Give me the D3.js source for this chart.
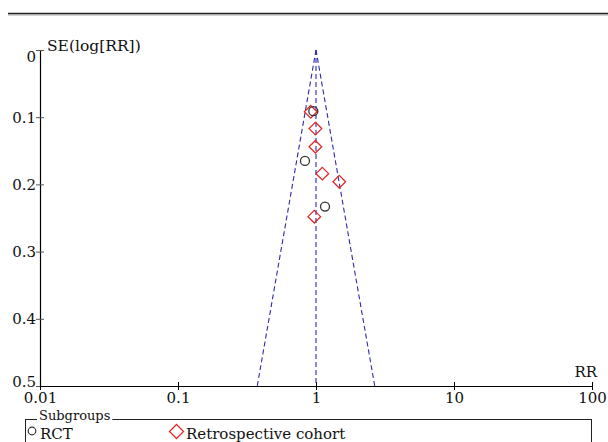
<!DOCTYPE html>
<html>
<head>
<meta charset="utf-8">
<script src="https://cdn.jsdelivr.net/npm/d3@7"></script>
<style>
  body { margin: 0; background: #fff; }
  svg { display: block; font-family: "DejaVu Serif", serif; }
</style>
</head>
<body>
<div class="svg-container"></div>
<script>
// datos
const rctRR = [0.956, 0.832, 1.162];
const rctSE = [0.091, 0.165, 0.233];
const retroRR = [0.915, 0.99, 0.99, 1.111, 1.475, 0.972];
const retroSE = [0.092, 0.117, 0.144, 0.184, 0.196, 0.248];
const pooledRR = 1.0;
const xTicks = [0.01, 0.1, 1, 10, 100];
const xTickLabels = ['0.01', '0.1', '1', '10', '100'];
const yTicks = [0, 0.1, 0.2, 0.3, 0.4, 0.5];
const yTickLabels = ['0', '0.1', '0.2', '0.3', '0.4', '0.5'];
const legendLabels = ['RCT', 'Retrospective cohort'];

const width = 608;
const height = 442;

const svg = d3.select('.svg-container')
  .append('svg')
  .attr('width', width)
  .attr('height', height);

const x = d3.scaleLog().domain([0.01, 100]).range([40, 592]);
const y = d3.scaleLinear().domain([0, 0.5]).range([50, 386]);

// linea superior
svg.append('line')
  .attr('x1', 8).attr('x2', width)
  .attr('y1', 15).attr('y2', 15)
  .attr('stroke', '#aaa').attr('stroke-width', 1);
svg.append('line')
  .attr('x1', 8).attr('x2', width)
  .attr('y1', 13.5).attr('y2', 13.5)
  .attr('stroke', '#222').attr('stroke-width', 1.5);

// eje Y
const yAxis = svg.append('g')
  .attr('transform', 'translate(40,0)')
  .call(d3.axisLeft(y).tickValues(yTicks).tickSize(4).tickSizeOuter(0)
    .tickFormat((d, i) => yTickLabels[i]));
yAxis.select('.domain').attr('stroke', '#000').attr('stroke-width', 1.2);
yAxis.selectAll('.tick line').attr('x1', 4).attr('x2', -4).attr('stroke', '#555');
yAxis.selectAll('.tick text')
  .attr('x', -4)
  .attr('font-family', '"DejaVu Serif", serif')
  .attr('font-size', 15)
  .attr('fill', '#111')
  .attr('dy', (d) => d === 0 ? '0.75em' : (d === 0.5 ? '0.05em' : '0.32em'));

// eje X
const xAxis = svg.append('g')
  .attr('transform', 'translate(0,386)')
  .call(d3.axisBottom(x).tickValues(xTicks).tickSize(4).tickSizeOuter(0)
    .tickFormat((d, i) => xTickLabels[i]));
xAxis.select('.domain').attr('stroke', '#000').attr('stroke-width', 1.2);
xAxis.selectAll('.tick line').attr('y1', -4).attr('y2', 4).attr('stroke', '#000');
xAxis.selectAll('.tick text')
  .attr('y', 6)
  .attr('font-family', '"DejaVu Serif", serif')
  .attr('font-size', 15)
  .attr('fill', '#111');

svg.append('text')
  .attr('x', 47).attr('y', 51)
  .attr('font-size', 15.5)
  .attr('fill', '#111')
  .text('SE(log[RR])');

svg.append('text')
  .attr('x', 597).attr('y', 377)
  .attr('text-anchor', 'end')
  .attr('font-size', 15)
  .attr('fill', '#111')
  .text('RR');

// embudo
const seLine = [0, 0.5];
const funnelColor = '#2b2bb0';
const line = d3.line().x(d => x(d[0])).y(d => y(d[1]));
const leftSide = seLine.map(s => [pooledRR * Math.exp(-1.96 * s), s]);
const rightSide = seLine.map(s => [pooledRR * Math.exp(1.96 * s), s]);
[leftSide, rightSide, seLine.map(s => [pooledRR, s])].forEach(pts => {
  svg.append('path')
    .attr('d', line(pts))
    .attr('fill', 'none')
    .attr('stroke', funnelColor)
    .attr('stroke-width', 1.1)
    .attr('stroke-dasharray', '5,3');
});

const diamond = (cx, cy, r) => `M${cx},${cy - r}L${cx + r},${cy}L${cx},${cy + r}L${cx - r},${cy}Z`;
const red = '#dd2a2a';

// cohortes retrospectivas
svg.append('g').selectAll('path')
  .data(retroRR.map((rr, i) => [rr, retroSE[i]]))
  .enter().append('path')
  .attr('d', d => diamond(x(d[0]), y(d[1]), 6.3))
  .attr('fill', 'none')
  .attr('stroke', red)
  .attr('stroke-width', 1.3);

// RCT
svg.append('g').selectAll('circle')
  .data(rctRR.map((rr, i) => [rr, rctSE[i]]))
  .enter().append('circle')
  .attr('cx', d => x(d[0]))
  .attr('cy', d => y(d[1]))
  .attr('r', 4.5)
  .attr('fill', 'none')
  .attr('stroke', '#333')
  .attr('stroke-width', 1.3);

// leyenda
const legend = svg.append('g');
legend.append('rect')
  .attr('x', 25.5).attr('y', 419.5)
  .attr('width', 566).attr('height', 60)
  .attr('fill', 'none')
  .attr('stroke', '#222').attr('stroke-width', 1);
const title = legend.append('text')
  .attr('x', 39).attr('y', 420)
  .attr('font-size', 13)
  .attr('fill', '#111')
  .text('Subgroups');
const tb = title.node().getBBox();
legend.insert('rect', 'text')
  .attr('x', tb.x - 2).attr('y', 417)
  .attr('width', tb.width + 4).attr('height', 5)
  .attr('fill', '#fff');

legend.append('circle')
  .attr('cx', 32).attr('cy', 431)
  .attr('r', 3.8)
  .attr('fill', 'none')
  .attr('stroke', '#333').attr('stroke-width', 1.2);
legend.append('text')
  .attr('x', 40).attr('y', 439)
  .attr('font-size', 15)
  .attr('fill', '#111')
  .text(legendLabels[0]);

legend.append('path')
  .attr('d', diamond(176.5, 431.5, 7))
  .attr('fill', 'none')
  .attr('stroke', red).attr('stroke-width', 1.3);
legend.append('text')
  .attr('x', 186).attr('y', 439)
  .attr('font-size', 15)
  .attr('fill', '#111')
  .text(legendLabels[1]);
</script>
</body>
</html>
